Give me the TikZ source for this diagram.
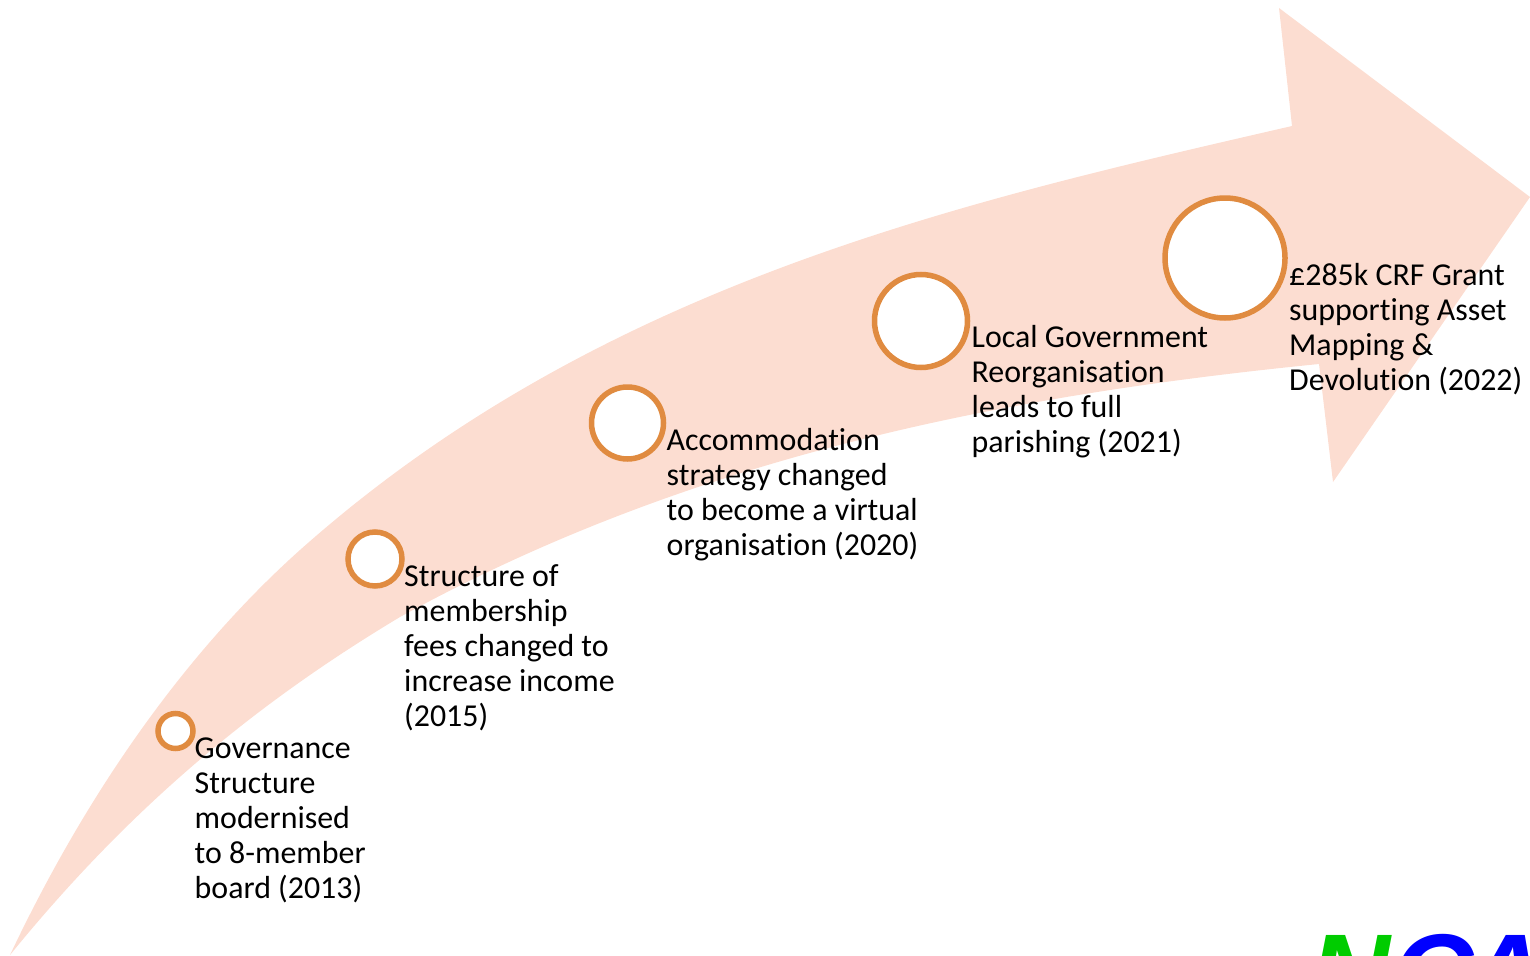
\documentclass[tikz,border=0pt]{standalone}
\usepackage{fontspec}
\setmainfont[RawFeature={-liga}]{Carlito}
\newfontfamily\logofont{Liberation Sans}
\definecolor{arrowpink}{HTML}{FCDDD1}
\definecolor{ringorange}{HTML}{E08B40}
\definecolor{logogreen}{HTML}{00CC00}
\definecolor{logoblue}{HTML}{0000FF}
\newcommand{\firstline}{\rule{0pt}{24pt}}
\tikzset{
  ring/.style={circle,draw=ringorange,fill=white,line width=5.5pt,inner sep=0pt,minimum size=#1},
  label/.style={anchor=north west,inner sep=0pt,align=left,text=black,font=\fontsize{31.9}{35}\selectfont},
  logotext/.style={anchor=base west,inner sep=0pt,font=\logofont\bfseries\itshape\fontsize{112}{112}\selectfont}
}
\begin{document}
\begin{tikzpicture}[x=1pt,y=-1pt]
\useasboundingbox (0,0) rectangle (1530,955);
\begin{scope}
\clip (0,0) rectangle (1530,955);
\fill[arrowpink] (10,955) .. controls (100,765) and (205,635) .. (300,550)
  .. controls (600,283) and (962,202) .. (1292,126)
  -- (1279,8) -- (1530,197) -- (1333,482) -- (1319,364)
  .. controls (1019,394) and (700,452) .. (400,617)
  .. controls (270,695) and (140,795) .. (10,955) -- cycle;
\node[logotext,text=logogreen] (logoN) at (1309,1012) {N};
\node[logotext,text=logoblue] (logoC) at (1392,1012) {C};
\node[logotext,text=logoblue] (logoA) at (1465,1012) {A};
\end{scope}
\node[ring=35pt] (r1) at (175.5,731) {};
\node[ring=54pt] (r2) at (375,559) {};
\node[ring=72pt] (r3) at (627.5,423) {};
\node[ring=93pt] (r4) at (921,321) {};
\node[ring=120pt] (r5) at (1225,258) {};
\node[label] (t1) at (194.5,734.5) {\firstline Governance\\Structure\\modernised\\to 8-member\\board (2013)};
\node[label] (t2) at (404,562.5) {\firstline Structure of\\membership\\fees changed to\\increase income\\(2015)};
\node[label] (t3) at (666.5,426.5) {\firstline Accommodation\\strategy changed\\to become a virtual\\organisation (2020)};
\node[label] (t4) at (971.5,323.5) {\firstline Local Government\\Reorganisation\\leads to full\\parishing (2021)};
\node[label] (t5) at (1289,261.5) {\firstline £285k CRF Grant\\supporting Asset\\Mapping \&\\Devolution (2022)};
\end{tikzpicture}
\end{document}
